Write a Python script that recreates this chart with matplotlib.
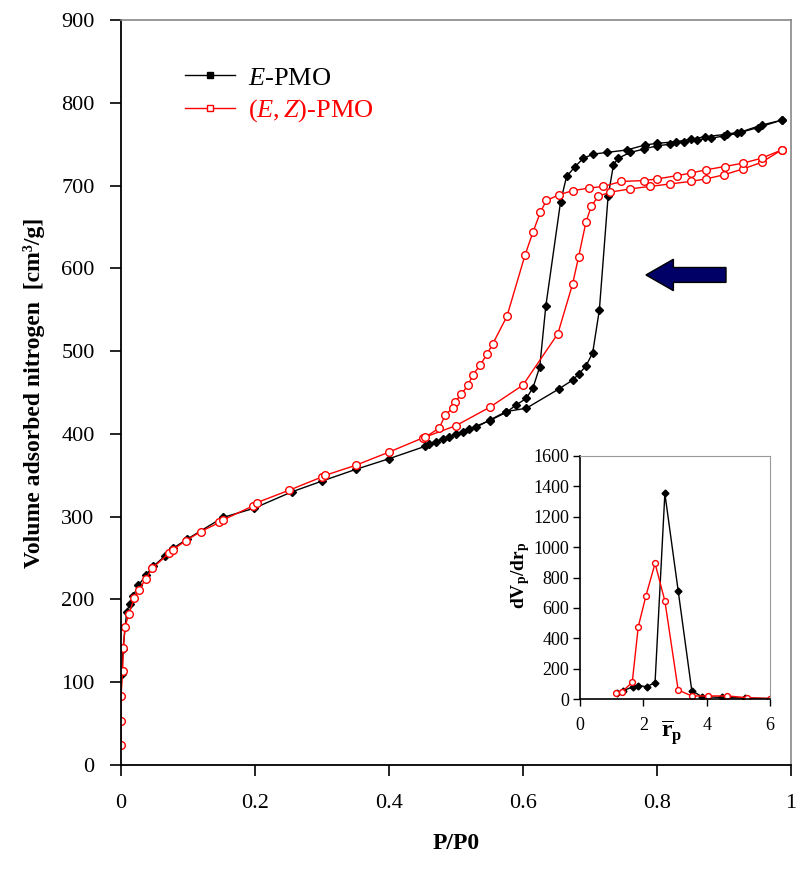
import matplotlib
matplotlib.use("Agg")
import matplotlib.pyplot as plt
from matplotlib.lines import Line2D
from matplotlib.patches import FancyArrow

plt.rcParams['font.family'] = ['Liberation Serif', 'DejaVu Serif']
plt.rcParams['mathtext.fontset'] = 'custom'
plt.rcParams['mathtext.rm'] = 'Liberation Serif'
plt.rcParams['mathtext.it'] = 'Liberation Serif:italic'
plt.rcParams['mathtext.bf'] = 'Liberation Serif:bold'

# ---------------- data ----------------
# E-PMO adsorption branch
e_ads_x = [0.001, 0.003, 0.0085, 0.013, 0.018, 0.026, 0.037, 0.048, 0.065, 0.078, 0.099, 0.152,
           0.198, 0.255, 0.30, 0.35, 0.40, 0.454, 0.47, 0.49, 0.51, 0.53, 0.551, 0.575, 0.605,
           0.653, 0.674, 0.683, 0.694, 0.704, 0.714, 0.727, 0.735, 0.742, 0.76, 0.78, 0.80,
           0.82, 0.84, 0.86, 0.88, 0.90, 0.92, 0.95, 0.986]
e_ads_y = [110, 140, 185, 195, 204, 217, 229, 240, 252, 262, 273, 299,
           310, 330, 343, 357, 370, 385, 390, 396, 402, 408, 417, 427, 431,
           454, 465, 472, 482, 498, 550, 687, 725, 733, 740, 744, 748,
           750, 753, 755, 757, 760, 763, 770, 779]
# E-PMO desorption branch
e_des_x = [0.956, 0.926, 0.904, 0.872, 0.85, 0.829, 0.80, 0.782, 0.755, 0.725, 0.705, 0.69,
           0.678, 0.665, 0.656, 0.634, 0.625, 0.615, 0.605, 0.59, 0.575, 0.55, 0.52, 0.50,
           0.48, 0.46]
e_des_y = [773, 765, 762, 759, 756, 753, 751, 749, 743, 740, 738, 733,
           723, 711, 680, 554, 481, 456, 443, 435, 426, 416, 406, 400,
           394, 388]

# (E,Z)-PMO adsorption branch
ez_ads_x = [0.0, 0.0, 0.0, 0.0025, 0.0035, 0.006, 0.012, 0.02, 0.027, 0.037, 0.047, 0.072,
            0.077, 0.097, 0.119, 0.147, 0.152, 0.197, 0.203, 0.251, 0.30, 0.305, 0.35, 0.40,
            0.45, 0.50, 0.55, 0.60, 0.652, 0.674, 0.683, 0.694, 0.702, 0.712, 0.73, 0.76,
            0.79, 0.82, 0.85, 0.873, 0.90, 0.928, 0.956, 0.986]
ez_ads_y = [24, 53, 83, 114, 141, 167, 183, 202, 212, 225, 238, 256,
            260, 271, 282, 293, 296, 313, 317, 332, 348, 350, 362, 378,
            395, 410, 432, 459, 521, 581, 614, 656, 675, 687, 692, 696,
            699, 702, 705, 708, 713, 720, 728, 743]
# (E,Z)-PMO desorption branch
ez_des_x = [0.956, 0.928, 0.901, 0.873, 0.85, 0.83, 0.80, 0.78, 0.747, 0.72, 0.699, 0.675,
            0.654, 0.635, 0.626, 0.615, 0.603, 0.576, 0.555, 0.546, 0.536, 0.525, 0.518,
            0.508, 0.499, 0.495, 0.484, 0.475, 0.454]
ez_des_y = [733, 727, 723, 719, 715, 712, 708, 706, 705, 699, 697, 694,
            689, 682, 668, 644, 616, 542, 509, 496, 483, 471, 459,
            448, 439, 431, 423, 407, 396]

# Inset: pore size distribution
psd_e_x = [1.18, 1.37, 1.68, 1.84, 2.10, 2.37, 2.68, 3.10, 3.53, 3.84, 4.5, 5.2, 6.0]
psd_e_y = [44, 57, 83, 90, 83, 109, 1352, 713, 57, 18, 12, 8, 5]
psd_ez_x = [1.14, 1.33, 1.65, 1.84, 2.08, 2.37, 2.68, 3.10, 3.53, 4.05, 4.65, 5.26, 6.0]
psd_ez_y = [44, 50, 112, 477, 678, 893, 646, 61, 22, 22, 22, 11, 5]

x_ticks = [0, 0.2, 0.4, 0.6, 0.8, 1.0]
x_tick_labels = ["0", "0.2", "0.4", "0.6", "0.8", "1"]
y_ticks = list(range(0, 901, 100))
in_x_ticks = [0, 2, 4, 6]
in_y_ticks = list(range(0, 1601, 200))

# ---------------- figure ----------------
fig = plt.figure(figsize=(8, 8.75), dpi=100)
ax = fig.add_axes([0.15125, 0.12571, 0.8375, 0.85143])

bkw = dict(color='black', lw=1.0, marker='D', ms=4.2, mfc='black', mec='black')
rkw = dict(color='red', lw=1.0, marker='o', ms=5.5, mfc='white', mec='red', mew=1.0)
ax.plot(e_ads_x, e_ads_y, **bkw)
ax.plot([e_ads_x[-1]] + e_des_x, [e_ads_y[-1]] + e_des_y, **bkw)
ax.plot(ez_ads_x, ez_ads_y, **rkw)
ax.plot([ez_ads_x[-1]] + ez_des_x, [ez_ads_y[-1]] + ez_des_y, **rkw)

ax.set_xlim(0, 1)
ax.set_ylim(0, 900)
ax.set_xticks(x_ticks)
ax.set_xticklabels(x_tick_labels)
ax.set_yticks(y_ticks)
ax.tick_params(direction='out', length=8, width=1.2, labelsize=16, pad=11)
ax.tick_params(axis='x', pad=13)
for s in ['left', 'bottom']:
    ax.spines[s].set_linewidth(1.3)
for s in ['top', 'right']:
    ax.spines[s].set_color('#888888')
    ax.spines[s].set_linewidth(1.2)

ax.set_xlabel('P/P0', fontsize=17, fontweight='bold', labelpad=14)
ax.set_ylabel('Volume adsorbed nitrogen  [cm³/g]', fontsize=17, fontweight='bold', labelpad=12)

# arrow
arr = FancyArrow(0.903, 592, -0.1195, 0, width=18, head_width=38, head_length=0.041,
                 length_includes_head=True, facecolor='#000066', edgecolor='black', lw=1.0)
ax.add_patch(arr)

# legend
handles = [Line2D([], [], color='black', lw=1.0, marker='s', ms=5, mfc='black', mec='black'),
           Line2D([], [], color='red', lw=1.0, marker='s', ms=5, mfc='white', mec='red')]
leg = ax.legend(handles, [r'$\mathit{E}$-PMO', r'($\mathit{E,Z}$)-PMO'],
                loc='upper left', bbox_to_anchor=(0.06, 0.97), frameon=False,
                fontsize=19, handlelength=1.9, handletextpad=0.5, labelspacing=0.3)
for t, c in zip(leg.get_texts(), ['black', 'red']):
    t.set_color(c)

# inset
axi = fig.add_axes([0.725, 0.2008, 0.2375, 0.2784])
axi.plot(psd_e_x, psd_e_y, color='black', lw=1.0, marker='D', ms=3.5, mfc='black', mec='black')
axi.plot(psd_ez_x, psd_ez_y, color='red', lw=1.0, marker='o', ms=4.2, mfc='white', mec='red')
axi.set_xlim(0, 6)
axi.set_ylim(0, 1600)
axi.set_xticks(in_x_ticks)
axi.set_yticks(in_y_ticks)
axi.tick_params(direction='out', length=5, width=1.0, labelsize=13, pad=3)
axi.tick_params(axis='x', pad=8)
for s in ['left', 'bottom']:
    axi.spines[s].set_linewidth(1.2)
for s in ['top', 'right']:
    axi.spines[s].set_color('#999999')
axi.set_ylabel(r'$\mathbf{dV}_{\mathbf{p}}\mathbf{/dr}_{\mathbf{p}}$', fontsize=14)
axi.yaxis.set_label_coords(-0.25, 0.51)
axi.set_xlabel(r'$\overline{\mathbf{r}}_{\mathbf{p}}$', fontsize=17)
axi.xaxis.set_label_coords(0.483, -0.08)

fig.savefig('out.png', dpi=100)
